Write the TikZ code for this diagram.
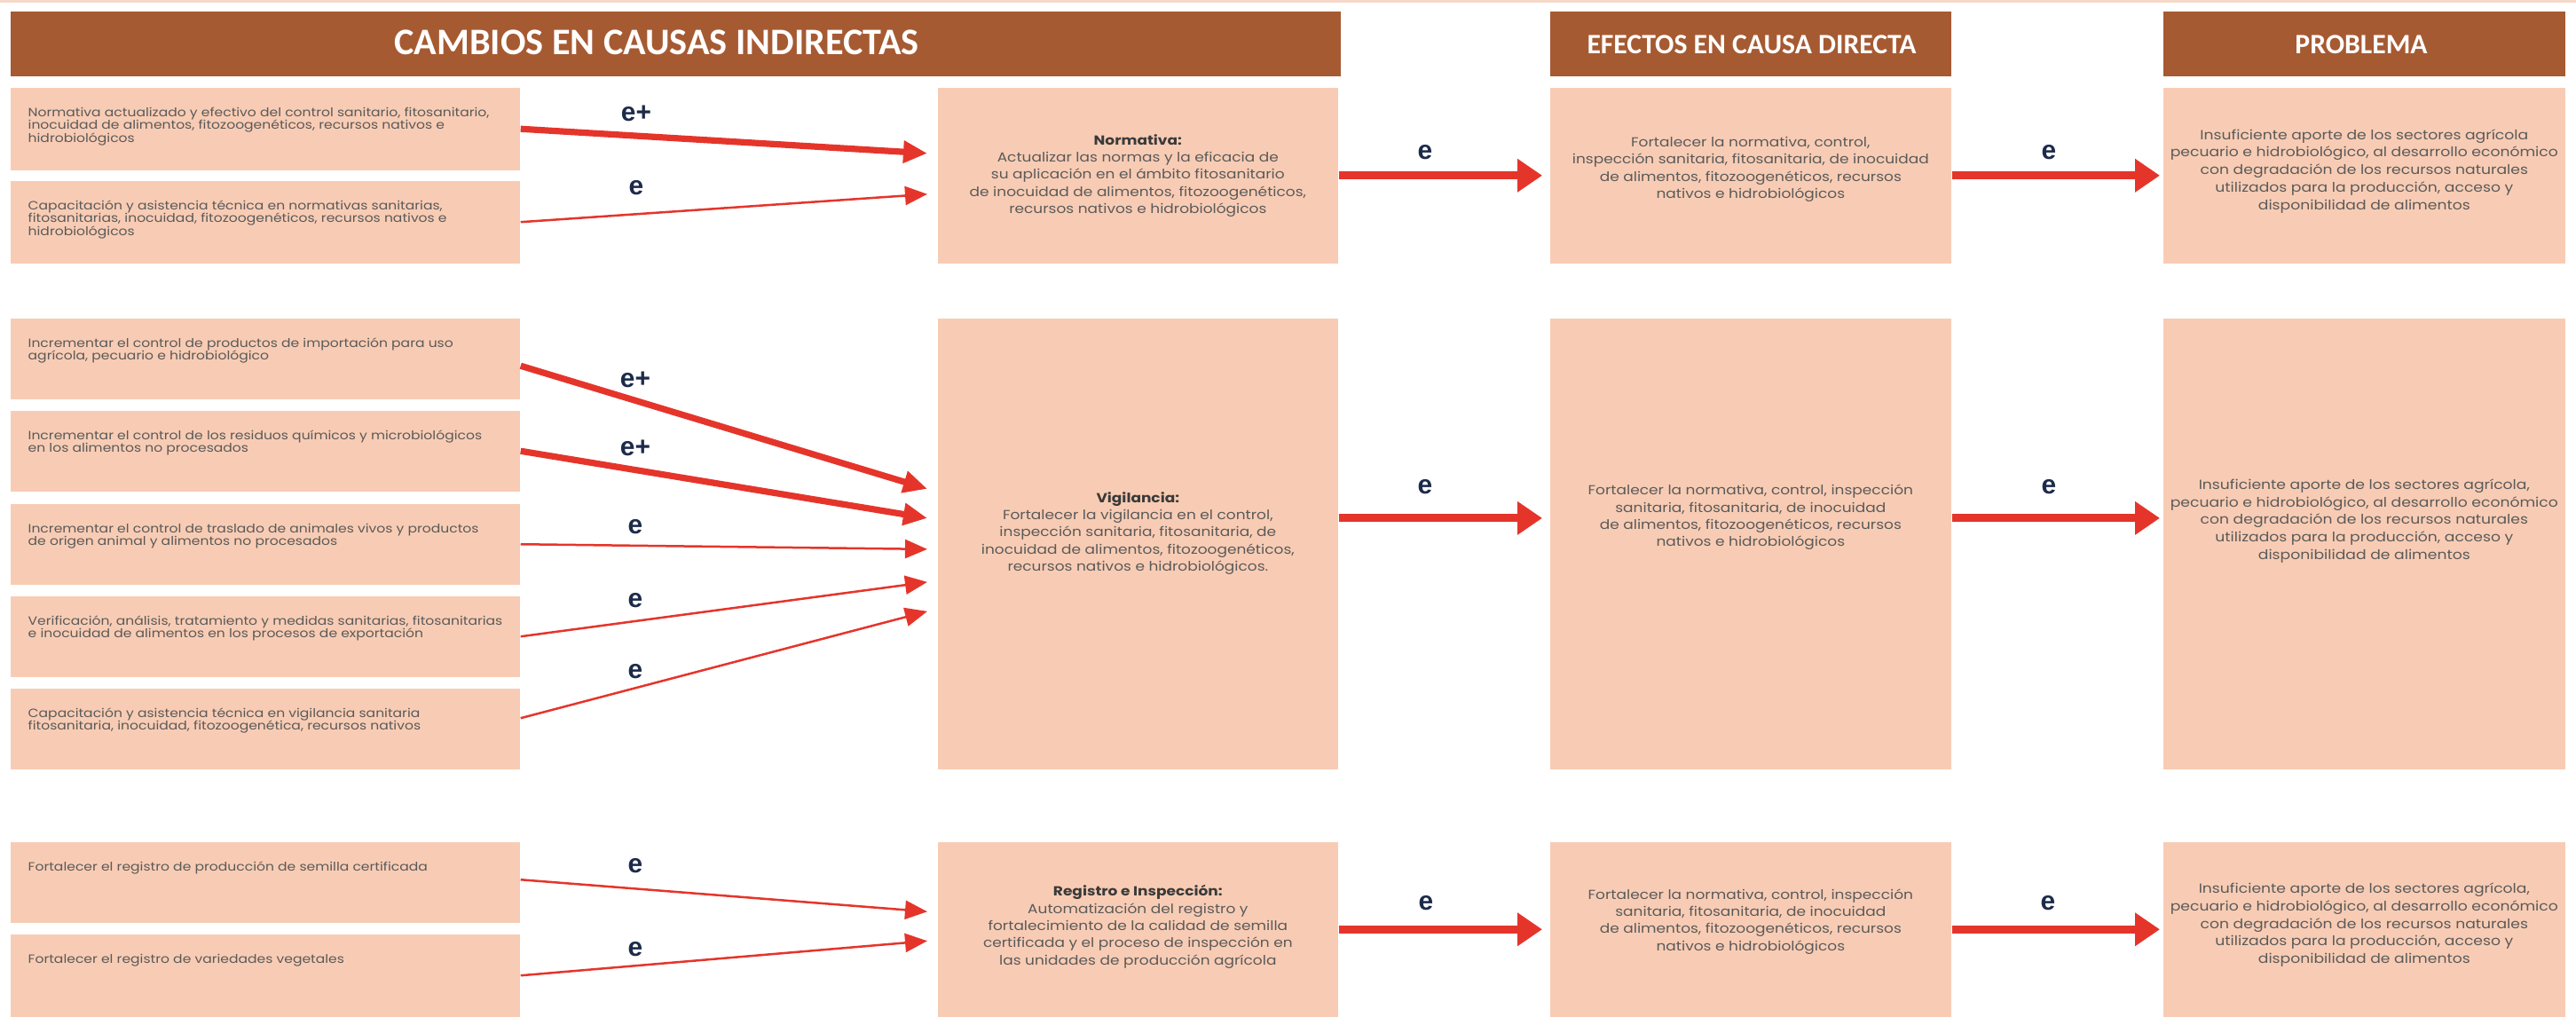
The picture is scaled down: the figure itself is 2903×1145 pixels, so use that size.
\documentclass[tikz,border=0pt]{standalone}
\usepackage{fontspec}
\setmainfont{Liberation Sans}
\newfontfamily\hdrfont{Carlito}
\newfontfamily\bodyfont[FakeStretch=1.15]{Poppins}
\usetikzlibrary{arrows.meta,calc}
\definecolor{hdrbrown}{HTML}{A65A32}
\definecolor{boxpeach}{HTML}{F8CCB4}
\definecolor{arrred}{HTML}{E5352B}
\definecolor{lblnavy}{HTML}{1D2B4A}
\definecolor{txtgray}{HTML}{5A5A5A}
\definecolor{titlegray}{HTML}{3A3A3A}
\definecolor{toprule}{HTML}{F5D8C8}
\begin{document}
\begin{tikzpicture}[x=0.01cm,y=-0.01cm,
  hdr/.style={fill=hdrbrown, draw=none, anchor=north west, inner sep=0, minimum height=0.73cm},
  hdrtext/.style={text=white, inner sep=0},
  cbox/.style={fill=boxpeach, draw=none, anchor=north west, inner sep=0},
  lbox/.style={cbox, minimum width=5.74cm, minimum height=0.91cm},
  ltext/.style={anchor=north west, align=left, inner sep=0, text=txtgray, font=\bodyfont\fontsize{3.85}{4.15}\selectfont},
  ctext/.style={anchor=center, align=center, inner sep=0, text=txtgray, font=\bodyfont\fontsize{4.2}{5.5}\selectfont},
  ptext/.style={anchor=center, align=center, inner sep=0, text=txtgray, font=\bodyfont\fontsize{4.25}{5.6}\selectfont},
  thinarr/.style={draw=arrred, line width=0.025cm, -{Triangle[length=0.25cm,width=0.21cm]}},
  thickarr/.style={draw=arrred, line width=0.072cm, -{Triangle[length=0.27cm,width=0.24cm]}},
  bigarr/.style={draw=arrred, line width=0.09cm, -{Triangle[length=0.28cm,width=0.36cm]}},
  lbl/.style={text=lblnavy, font=\fontsize{8.5}{10}\selectfont\bfseries, inner sep=0},
]
\useasboundingbox (0,0) rectangle (2903,1145);
\fill[toprule] (0,0) rectangle (2903,3);

% headers
\node[hdr, minimum width=14.98cm] (H1) at (11,12) {};
\node[hdrtext, font=\hdrfont\bfseries\fontsize{12}{14}\selectfont] (H1t) at (740,48) {CAMBIOS EN CAUSAS INDIRECTAS};
\node[hdr, minimum width=4.52cm] (H2) at (1746,12) {};
\node[hdrtext, font=\hdrfont\bfseries\fontsize{9}{11}\selectfont] (H2t) at (1974,50) {EFECTOS EN CAUSA DIRECTA};
\node[hdr, minimum width=4.53cm] (H3) at (2437,12) {};
\node[hdrtext, font=\hdrfont\bfseries\fontsize{9}{11}\selectfont] (H3t) at (2661,50) {PROBLEMA};

% ---------- row 1 ----------
\node[lbox, minimum height=0.93cm] (L1) at (11,98) {};
\node[ltext] (L1t) at ($(L1.north west)+(20,22)$) {Normativa actualizado y efectivo del control sanitario, fitosanitario,\\inocuidad de alimentos, fitozoogenéticos, recursos nativos e\\hidrobiológicos};
\node[lbox, minimum height=0.93cm] (L2) at (11,203) {};
\node[ltext] (L2t) at ($(L2.north west)+(20,22)$) {Capacitación y asistencia técnica en normativas  sanitarias,\\fitosanitarias, inocuidad,  fitozoogenéticos, recursos nativos e\\hidrobiológicos};

\node[cbox, minimum width=4.51cm, minimum height=1.98cm] (M1) at (1056,98) {};
\node[ctext] (M1t) at (M1.center) {\textcolor{titlegray}{\textbf{Normativa:}}\\Actualizar las normas y la eficacia de\\su aplicación en el ámbito fitosanitario\\de  inocuidad de alimentos, fitozoogenéticos,\\recursos nativos e hidrobiológicos};
\node[cbox, minimum width=4.52cm, minimum height=1.98cm] (E1) at (1746,98) {};
\node[ctext] (E1t) at ($(E1.center)+(0,-7)$) {Fortalecer la normativa, control,\\inspección sanitaria, fitosanitaria, de inocuidad\\de alimentos, fitozoogenéticos, recursos\\nativos e hidrobiológicos};
\node[cbox, minimum width=4.53cm, minimum height=1.98cm] (P1) at (2437,98) {};
\node[ptext] (P1t) at ($(P1.center)+(0,-5)$) {Insuficiente aporte de los sectores agrícola\\pecuario e hidrobiológico, al desarrollo económico\\con degradación de los recursos naturales\\utilizados para la producción, acceso y\\disponibilidad de alimentos};

\draw[thickarr] (L1.east) -- ($(M1.west)+(-11,-25)$);
\draw[thinarr] (L2.east) -- ($(M1.west)+(-11,21)$);
\node[lbl] (l11) at (717,128) {e+};
\node[lbl] (l12) at (717,212) {e};
\draw[bigarr] (M1.east) -- ($(E1.west)+(-8,0)$);
\draw[bigarr] (E1.east) -- ($(P1.west)+(-3,0)$);
\node[lbl] (l13) at (1606,172) {e};
\node[lbl] (l14) at (2309,172) {e};

% ---------- row 2 ----------
\node[lbox] (La) at (11,358) {};
\node[ltext] (Lat) at ($(La.north west)+(20,22)$) {Incrementar el control de productos de importación para uso\\agrícola, pecuario e hidrobiológico};
\node[lbox] (Lb) at (11,462) {};
\node[ltext] (Lbt) at ($(Lb.north west)+(20,22)$) {Incrementar el control de los residuos químicos y microbiológicos\\en los alimentos no procesados};
\node[lbox] (Lc) at (11,567) {};
\node[ltext] (Lct) at ($(Lc.north west)+(20,22)$) {Incrementar el control de traslado de animales vivos y productos\\de origen animal y alimentos no procesados};
\node[lbox] (Ld) at (11,671) {};
\node[ltext] (Ldt) at ($(Ld.north west)+(20,22)$) {Verificación, análisis, tratamiento y medidas sanitarias, fitosanitarias\\e inocuidad de alimentos en los procesos de exportación};
\node[lbox] (Le) at (11,775) {};
\node[ltext] (Let) at ($(Le.north west)+(20,22)$) {Capacitación y asistencia técnica en vigilancia sanitaria\\fitosanitaria, inocuidad, fitozoogenética, recursos nativos};

\node[cbox, minimum width=4.51cm, minimum height=5.08cm] (M2) at (1056,358) {};
\node[ctext] (M2t) at ($(M2.center)+(0,-12)$) {\textcolor{titlegray}{\textbf{Vigilancia:}}\\Fortalecer la vigilancia en el control,\\inspección sanitaria, fitosanitaria, de\\inocuidad de alimentos, fitozoogenéticos,\\recursos nativos e hidrobiológicos.};
\node[cbox, minimum width=4.52cm, minimum height=5.08cm] (E2) at (1746,358) {};
\node[ctext] (E2t) at ($(E2.center)+(0,-30)$) {Fortalecer la normativa, control, inspección\\sanitaria, fitosanitaria, de  inocuidad\\de alimentos, fitozoogenéticos, recursos\\nativos e hidrobiológicos};
\node[cbox, minimum width=4.53cm, minimum height=5.08cm] (P2) at (2437,358) {};
\node[ptext] (P2t) at ($(P2.center)+(0,-26)$) {Insuficiente aporte de los sectores agrícola,\\pecuario e hidrobiológico, al desarrollo económico\\con degradación de los recursos naturales\\utilizados para la producción, acceso y\\disponibilidad de alimentos};

\draw[thickarr] ($(La.east)+(0,8)$) -- ($(M2.west)+(-11,-62)$);
\draw[thickarr] (Lb.east) -- ($(M2.west)+(-11,-29)$);
\draw[thinarr] (Lc.east) -- ($(M2.west)+(-11,6)$);
\draw[thinarr] (Ld.east) -- ($(M2.west)+(-11,43)$);
\draw[thinarr] ($(Le.east)+(0,-12)$) -- ($(M2.west)+(-11,76)$);
\node[lbl] (l21) at (716,428) {e+};
\node[lbl] (l22) at (716,505) {e+};
\node[lbl] (l23) at (716,594) {e};
\node[lbl] (l24) at (716,677) {e};
\node[lbl] (l25) at (716,757) {e};
\draw[bigarr] ($(M2.east)+(0,-29)$) -- ($(E2.west)+(-8,-29)$);
\draw[bigarr] ($(E2.east)+(0,-29)$) -- ($(P2.west)+(-3,-29)$);
\node[lbl] (l26) at (1606,549) {e};
\node[lbl] (l27) at (2309,549) {e};

% ---------- row 3 ----------
\node[lbox] (Ra) at (11,948) {};
\node[ltext] (Rat) at ($(Ra.north west)+(20,22)$) {Fortalecer el registro de producción de semilla certificada};
\node[lbox, minimum height=0.93cm] (Rb) at (11,1052) {};
\node[ltext] (Rbt) at ($(Rb.north west)+(20,22)$) {Fortalecer el registro de variedades vegetales};

\node[cbox, minimum width=4.51cm, minimum height=1.97cm] (M3) at (1056,948) {};
\node[ctext] (M3t) at ($(M3.center)+(0,-3)$) {\textcolor{titlegray}{\textbf{Registro e Inspección:}}\\Automatización del registro y\\fortalecimiento de la calidad de semilla\\certificada y el proceso de inspección en\\las unidades de producción agrícola};
\node[cbox, minimum width=4.52cm, minimum height=1.97cm] (E3) at (1746,948) {};
\node[ctext] (E3t) at ($(E3.center)+(0,-9)$) {Fortalecer la normativa, control, inspección\\sanitaria, fitosanitaria, de  inocuidad\\de alimentos, fitozoogenéticos, recursos\\nativos e hidrobiológicos};
\node[cbox, minimum width=4.53cm, minimum height=1.97cm] (P3) at (2437,948) {};
\node[ptext] (P3t) at ($(P3.center)+(0,-5)$) {Insuficiente aporte de los sectores agrícola,\\pecuario e hidrobiológico, al desarrollo económico\\con degradación de los recursos naturales\\utilizados para la producción, acceso y\\disponibilidad de alimentos};

\draw[thinarr] ($(Ra.east)+(0,-3)$) -- ($(M3.west)+(-11,-20)$);
\draw[thinarr] (Rb.east) -- ($(M3.west)+(-11,13)$);
\node[lbl] (l31) at (716,976) {e};
\node[lbl] (l32) at (716,1070) {e};
\draw[bigarr] (M3.east) -- ($(E3.west)+(-8,0)$);
\draw[bigarr] (E3.east) -- ($(P3.west)+(-3,0)$);
\node[lbl] (l33) at (1607,1018) {e};
\node[lbl] (l34) at (2308,1018) {e};
\end{tikzpicture}
\end{document}
